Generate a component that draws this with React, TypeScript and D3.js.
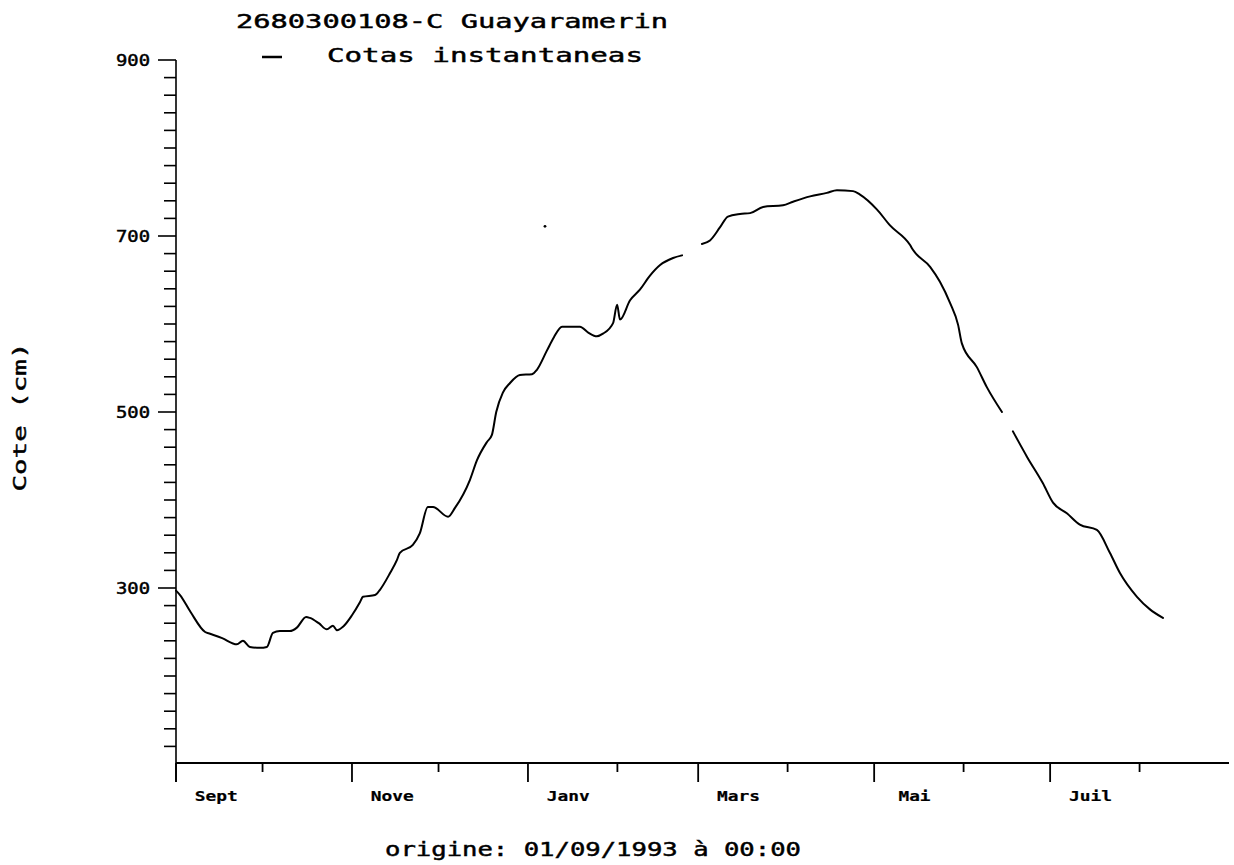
import React from "react";
import * as d3 from "d3";

// ---- Data (days since origin 01/09/1993 00:00, water level in cm) ----
const days: number[] = [
  0, 1.4, 5.0, 10.1, 11.8, 16.0, 21.1, 23.2, 25.6, 29.1, 31.5, 33.6, 36.0, 39.5, 41.9, 45.1, 46.4,
  49.5, 52.3, 54.4, 55.8, 57.9, 61.0, 63.8, 64.8, 69.0, 70.7, 74.2, 76.6, 77.6, 82.1, 84.5, 87.3,
  89.1, 94.3, 96.7, 101.9, 104.3, 107.8, 109.5, 111.0, 113.3, 115.8, 119.2, 123.4, 125.1,
  128.6, 131.0, 133.8, 140.0, 143.0, 145.9, 148.0, 151.5, 152.9, 153.9, 157.4, 160.8, 164.3, 167.8,
  172.3, 175.4,
  179.0,
  182.3, 185.1, 188.6, 191.3, 195.5, 199.0, 203.5, 210.4, 213.9, 219.8, 225.6, 229.1,
  234.7, 237.1, 243.0, 247.5, 254.4, 255.5, 261.4, 264.8, 268.3, 271.1, 272.4, 277.6,
  281.1, 286.3,
  288.0,
  290.1, 295.0, 300.5, 304.0, 308.8, 313.3, 319.2, 323.7, 327.2, 333.1, 337.5, 342.1,
];
const cotes: (number | null)[] = [
  297, 292, 273, 250, 248, 243, 236, 240, 233, 232, 233, 249, 251, 251, 255, 267, 266,
  260, 253, 257, 252, 256, 269, 284, 290, 292, 298, 317, 332, 340, 349, 362, 392,
  392, 381, 391, 423, 445, 466, 474, 500, 522, 533, 542, 543, 548,
  570, 585, 597, 597, 590, 586, 589, 601, 622, 605, 627, 639, 655, 667,
  675, 678,
  null,
  691, 695, 710, 722, 725, 726, 733, 735, 739, 745, 749, 752,
  751, 747, 730, 712, 690, 684, 665, 648, 624, 599, 578, 551,
  528, 500,
  null,
  478, 449, 419, 397, 385, 372, 366, 340, 317, 290, 276, 266,
];
const isolatedDays: number[] = [127.9];
const isolatedCotes: number[] = [711];

const yTickValues: number[] = [900, 700, 500, 300];
const monthLabels: string[] = ["Sept", "Nove", "Janv", "Mars", "Mai", "Juil"];

const titleText = "2680300108-C Guayaramerin";
const legendText = "Cotas instantaneas";
const yAxisTitle = "Cote (cm)";
const originText = "origine: 01/09/1993 \u00e0 00:00";

const origin = new Date(Date.UTC(1993, 8, 1));
const endDate = new Date(Date.UTC(1994, 8, 1));

export default function App() {
  const W = 1234;
  const H = 865;
  const x = d3.scaleUtc().domain([origin, endDate]).range([176, 1229]);
  const y = d3.scaleLinear().domain([100, 900]).range([764, 60]);
  const toDate = (d: number) => new Date(origin.getTime() + d * 86400000);

  const pts = days.map((d, i) => ({ d: toDate(d), v: cotes[i] }));
  const line = d3
    .line<{ d: Date; v: number | null }>()
    .defined((p) => p.v !== null)
    .x((p) => x(p.d))
    .y((p) => y(p.v as number))
    .curve(d3.curveMonotoneX);

  const minorY = d3.range(120, 901, 20);
  const months = d3.utcMonth.range(origin, endDate);
  const font = "'DejaVu Sans Mono', monospace";
  const txt = { fontFamily: font, fill: "#000", stroke: "#000", strokeWidth: 0.45 } as const;

  return (
    <svg width={W} height={H} style={{ position: "absolute", left: 0, top: 0, background: "#fff" }}>
      {/* title & legend */}
      <text x={236} y={28} fontSize={20} textLength={432} lengthAdjust="spacingAndGlyphs" {...txt}>
        {titleText}
      </text>
      <line x1={262} x2={282} y1={57} y2={57} stroke="#000" strokeWidth={2.5} />
      <text x={327} y={62} fontSize={20} textLength={316} lengthAdjust="spacingAndGlyphs" {...txt}>
        {legendText}
      </text>

      {/* y axis */}
      <line x1={176} x2={176} y1={y(900)} y2={782} stroke="#000" strokeWidth={1.6} />
      {minorY.map((v) => {
        const major = yTickValues.includes(v);
        return (
          <line key={v} x1={major ? 158 : 164} x2={176} y1={y(v)} y2={y(v)} stroke="#000" strokeWidth={1.6} />
        );
      })}
      {yTickValues.map((v) => (
        <text key={v} x={150} y={y(v) + 5.5} textAnchor="end" fontSize={15}
          textLength={34} lengthAdjust="spacingAndGlyphs" {...txt}>
          {v}
        </text>
      ))}
      <text transform={`translate(26,417) rotate(-90)`} textAnchor="middle" fontSize={18}
        textLength={149} lengthAdjust="spacingAndGlyphs" {...txt}>
        {yAxisTitle}
      </text>

      {/* x axis */}
      <line x1={176} x2={1229} y1={763} y2={763} stroke="#000" strokeWidth={2.2} />
      {months.map((m, i) => {
        const major = i % 2 === 0;
        return (
          <line key={i} x1={x(m)} x2={x(m)} y1={763} y2={major ? 782 : 772} stroke="#000" strokeWidth={1.8} />
        );
      })}
      {months
        .filter((_, i) => i % 2 === 0)
        .map((m, i) => {
          const label = monthLabels[i];
          const mid = d3.utcDay.offset(m, 14);
          return (
            <text key={i} x={x(mid)} y={801} textAnchor="middle" fontSize={14} fontWeight="bold"
              textLength={label.length * 11 - 1} lengthAdjust="spacingAndGlyphs" {...txt} strokeWidth={0.2}>
              {label}
            </text>
          );
        })}
      <text x={593} y={856} textAnchor="middle" fontSize={19}
        textLength={416} lengthAdjust="spacingAndGlyphs" {...txt}>
        {originText}
      </text>

      {/* data */}
      <path d={line(pts) || ""} fill="none" stroke="#000" strokeWidth={2} strokeLinejoin="round" strokeLinecap="round" />
      {isolatedDays.map((d, i) => (
        <circle key={i} cx={x(toDate(d))} cy={y(isolatedCotes[i])} r={1.4} fill="#000" />
      ))}
    </svg>
  );
}
